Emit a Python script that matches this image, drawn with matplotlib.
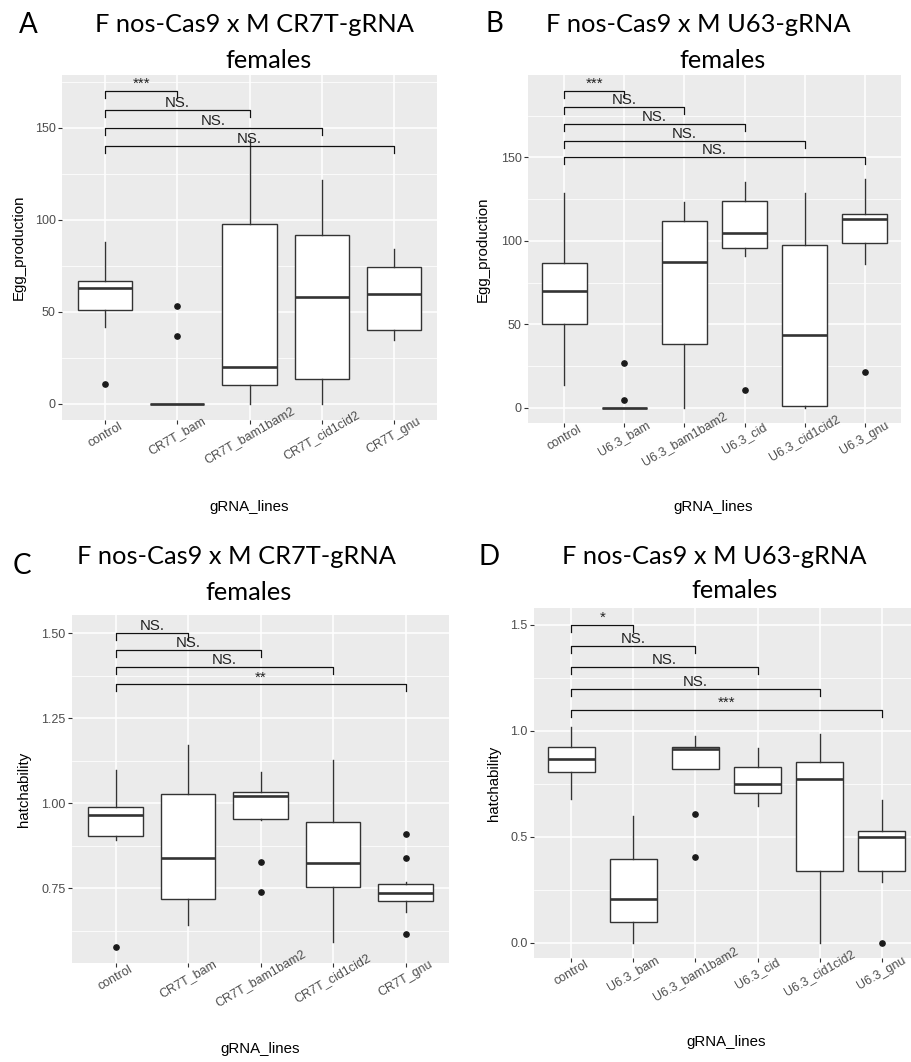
import matplotlib
matplotlib.use('Agg')
import matplotlib.pyplot as plt
from matplotlib.ticker import FixedLocator
import numpy as np

W, H = 911, 1062
DPI = 100

# ---------------- data ----------------
A_categories = ['control', 'CR7T_bam', 'CR7T_bam1bam2', 'CR7T_cid1cid2', 'CR7T_gnu']
A_whislo = [42, 0, 0, 0, 35]
A_q1 = [51, 0, 10.5, 13.5, 40]
A_med = [63, 0, 20, 58, 60]
A_q3 = [67, 0, 98, 92, 74.5]
A_whishi = [88, 0, 144, 122, 84]
A_outliers = [[11], [37, 53], [], [], []]
A_sig_y = [170, 160, 150, 140]
A_sig_labels = ['***', 'NS.', 'NS.', 'NS.']

B_categories = ['control', 'U6.3_bam', 'U6.3_bam1bam2', 'U6.3_cid', 'U6.3_cid1cid2', 'U6.3_gnu']
B_whislo = [14, 0, 0, 91, 0, 86]
B_q1 = [50, 0, 38.5, 96, 1, 98.5]
B_med = [70, 0, 87.5, 105, 43.5, 113]
B_q3 = [87, 0, 112, 124, 97.5, 116]
B_whishi = [129, 0, 123.5, 135.5, 129, 137]
B_outliers = [[], [5, 27], [], [11], [], [21.5]]
B_sig_y = [190, 180, 170, 160, 150]
B_sig_labels = ['***', 'NS.', 'NS.', 'NS.', 'NS.']

C_categories = ['control', 'CR7T_bam', 'CR7T_bam1bam2', 'CR7T_cid1cid2', 'CR7T_gnu']
C_whislo = [0.892, 0.642, 0.95, 0.591, 0.681]
C_q1 = [0.904, 0.719, 0.954, 0.754, 0.711]
C_med = [0.965, 0.838, 1.02, 0.824, 0.737]
C_q3 = [0.99, 1.027, 1.034, 0.946, 0.762]
C_whishi = [1.098, 1.171, 1.093, 1.127, 0.767]
C_outliers = [[0.578], [], [0.827, 0.74], [], [0.91, 0.84, 0.615]]
C_sig_y = [1.50, 1.45, 1.40, 1.35]
C_sig_labels = ['NS.', 'NS.', 'NS.', '**']

D_categories = ['control', 'U6.3_bam', 'U6.3_bam1bam2', 'U6.3_cid', 'U6.3_cid1cid2', 'U6.3_gnu']
D_whislo = [0.68, 0.0, 0.818, 0.646, 0.0, 0.285]
D_q1 = [0.804, 0.099, 0.818, 0.705, 0.34, 0.34]
D_med = [0.867, 0.206, 0.913, 0.749, 0.772, 0.5]
D_q3 = [0.923, 0.395, 0.925, 0.83, 0.851, 0.527]
D_whishi = [1.019, 0.598, 0.976, 0.917, 0.983, 0.673]
D_outliers = [[], [], [0.61, 0.403], [], [], [0.0]]
D_sig_y = [1.5, 1.4, 1.3, 1.2, 1.1]
D_sig_labels = ['*', 'NS.', 'NS.', 'NS.', '***']

# ---------------- drawing ----------------
fig = plt.figure(figsize=(W / DPI, H / DPI), dpi=DPI)
fig.patch.set_facecolor('white')

SANS = ['Liberation Sans', 'DejaVu Sans']
TITLE = ['Lato', 'DejaVu Sans']


def rect(l, t, r, b):
    return [l / W, 1 - b / H, (r - l) / W, (b - t) / H]


def ftext(x, y, s, **kw):
    fig.text(x / W, 1 - y / H, s, **kw)


def draw_panel(box, cats, lo, q1, med, q3, hi, fl, sig_y, sig_lab, ylim,
               major, minor, fmt):
    l, t, r, b = box
    ax = fig.add_axes(rect(l, t, r, b))
    ax.set_facecolor('#EBEBEB')
    for s in ax.spines.values():
        s.set_visible(False)
    pos = np.arange(1, len(cats) + 1)
    stats = [dict(whislo=a, q1=c, med=d, q3=e, whishi=f, fliers=g)
             for a, c, d, e, f, g in zip(lo, q1, med, q3, hi, fl)]
    ax.bxp(stats, positions=pos, widths=0.75, patch_artist=True, showcaps=False,
           boxprops=dict(facecolor='white', edgecolor='#333333', linewidth=1.0),
           medianprops=dict(color='#333333', linewidth=1.9),
           whiskerprops=dict(color='#333333', linewidth=1.0),
           flierprops=dict(marker='o', markerfacecolor='#1a1a1a',
                           markeredgecolor='#1a1a1a', markersize=3.8,
                           linestyle='none'),
           zorder=3)
    ax.set_xlim(0.4, len(cats) + 0.6)
    ax.set_ylim(*ylim)
    ax.set_axisbelow(True)
    ax.yaxis.set_major_locator(FixedLocator(major))
    ax.yaxis.set_minor_locator(FixedLocator(minor))
    ax.set_yticklabels([fmt.format(v) for v in major])
    ax.grid(which='major', color='white', linewidth=1.1)
    ax.grid(which='minor', axis='y', color='white', linewidth=0.55)
    ax.set_xticks(pos)
    ax.set_xticklabels(cats, rotation=30, ha='center', va='center',
                       rotation_mode='anchor', family=SANS)
    for lab in ax.get_yticklabels():
        lab.set_family(SANS)
    ax.tick_params(which='major', length=2.6, width=0.8, color='#333333',
                   labelcolor='#4D4D4D', labelsize=9)
    ax.tick_params(axis='x', pad=8.5)
    ax.tick_params(axis='y', pad=2)
    ax.tick_params(which='minor', length=0)
    # significance brackets
    ppu = (b - t) / (ylim[1] - ylim[0])
    tip = 7 / ppu
    off = 3 / ppu
    for i, (y, lab) in enumerate(zip(sig_y, sig_lab)):
        x0, x1 = 1, i + 2
        ax.plot([x0, x0, x1, x1], [y - tip, y, y, y - tip], color='#111111',
                linewidth=0.9, clip_on=False, zorder=5)
        ax.text((x0 + x1) / 2, y + off, lab, ha='center', va='baseline',
                fontsize=10.8, color='#222222', family=SANS, zorder=6)
    return ax


draw_panel((62, 75, 437, 420), A_categories, A_whislo, A_q1, A_med, A_q3, A_whishi,
           A_outliers, A_sig_y, A_sig_labels, (-8.7, 178.8),
           [0, 50, 100, 150], [25, 75, 125, 175], '{:g}')
draw_panel((528, 75, 901, 423), B_categories, B_whislo, B_q1, B_med, B_q3, B_whishi,
           B_outliers, B_sig_y, B_sig_labels, (-9, 199.4),
           [0, 50, 100, 150], [25, 75, 125, 175], '{:g}')
draw_panel((72, 615, 449, 963), C_categories, C_whislo, C_q1, C_med, C_q3, C_whishi,
           C_outliers, C_sig_y, C_sig_labels, (0.530, 1.554),
           [0.75, 1.00, 1.25, 1.50], [0.625, 0.875, 1.125, 1.375], '{:.2f}')
draw_panel((534, 608, 919, 958), D_categories, D_whislo, D_q1, D_med, D_q3, D_whishi,
           D_outliers, D_sig_y, D_sig_labels, (-0.072, 1.580),
           [0.0, 0.5, 1.0, 1.5], [0.25, 0.75, 1.25], '{:.1f}')

# axis titles
lab_kw = dict(fontsize=10.8, color='black', family=SANS, ha='center', va='center')
ftext(249, 507, 'gRNA_lines', **lab_kw)
ftext(713, 507, 'gRNA_lines', **lab_kw)
ftext(260, 1049, 'gRNA_lines', **lab_kw)
ftext(726, 1042, 'gRNA_lines', **lab_kw)
ftext(19, 247, 'Egg_production', rotation=90, **lab_kw)
ftext(483, 249, 'Egg_production', rotation=90, **lab_kw)
ftext(24, 789, 'hatchability', rotation=90, **lab_kw)
ftext(494, 783, 'hatchability', rotation=90, **lab_kw)

# titles
t_kw = dict(fontsize=18.3, color='black', family=TITLE, ha='center', va='center')
ftext(254, 25, 'F nos-Cas9 x M CR7T-gRNA', **t_kw)
ftext(268, 61, 'females', **t_kw)
ftext(698, 25, 'F nos-Cas9 x M U63-gRNA', **t_kw)
ftext(722, 61, 'females', **t_kw)
ftext(236, 556, 'F nos-Cas9 x M CR7T-gRNA', **t_kw)
ftext(249, 593, 'females', **t_kw)
ftext(714, 556, 'F nos-Cas9 x M U63-gRNA', **t_kw)
ftext(734, 591, 'females', **t_kw)

# panel letters
p_kw = dict(fontsize=20, color='black', family=TITLE, ha='center', va='center')
ftext(28, 25, 'A', **p_kw)
ftext(494, 24, 'B', **p_kw)
ftext(22, 566, 'C', **p_kw)
ftext(489, 557, 'D', **p_kw)

fig.savefig('out.png', dpi=DPI)
